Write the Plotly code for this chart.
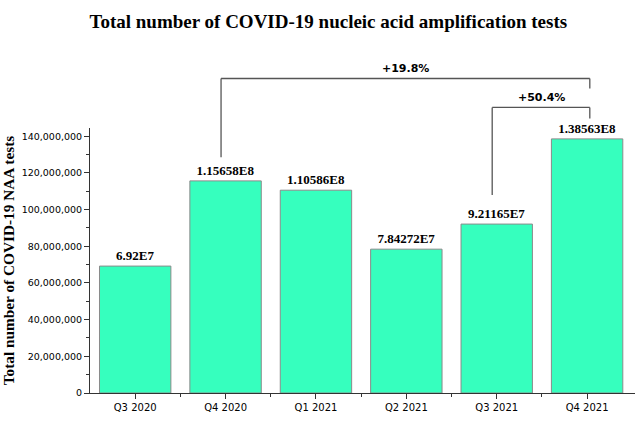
import plotly.graph_objects as go

categories = ["Q3 2020", "Q4 2020", "Q1 2021", "Q2 2021", "Q3 2021", "Q4 2021"]
tests = [69200000, 115658000, 110586000, 78427200, 92116500, 138563000]
bar_labels = ["6.92E7", "1.15658E8", "1.10586E8", "7.84272E7", "9.21165E7", "1.38563E8"]
comparisons = [("Q4 2020", "Q4 2021", "+19.8%"), ("Q3 2021", "Q4 2021", "+50.4%")]

YMAX = 144.5e6
W, H = 640, 422
ML, MR, MT, MB = 90, 5, 128, 29
x_idx = list(range(len(categories)))

fig = go.Figure()
fig.add_trace(go.Bar(
    x=x_idx, y=tests, width=0.79,
    marker=dict(color="#36FFBE", line=dict(color="#8a8a8a", width=1)),
    text=["<b>" + t + "</b>" for t in bar_labels], textposition="outside", cliponaxis=False,
    textfont=dict(family="Liberation Serif", size=13, color="black"),
    hoverinfo="skip",
))

# brackets: (top level, left leg bottom, right leg bottom) in data units -> paper
levels = [(171.5e6, 128.6e6, 166e6), (155.7e6, 108e6, 149.7e6)]
shapes = []
annotations = []
for (a, b, lab), (top, lb, rb) in zip(comparisons, levels):
    xa = categories.index(a) - 0.05
    xb = categories.index(b) + 0.03
    pts = [(xa, lb), (xa, top), (xb, top), (xb, rb)]
    for (x0, y0), (x1, y1) in zip(pts[:-1], pts[1:]):
        shapes.append(dict(type="line", xref="x", yref="paper",
                           x0=x0, x1=x1, y0=y0 / YMAX, y1=y1 / YMAX,
                           line=dict(color="#555555", width=1.3)))
    annotations.append(dict(x=(xa + xb) / 2, y=top / YMAX, xref="x", yref="paper",
                            text="<b>" + lab + "</b>", showarrow=False,
                            yanchor="bottom", yshift=1,
                            font=dict(family="DejaVu Sans", size=11, color="black")))

fig.update_layout(
    width=W, height=H,
    margin=dict(l=ML, r=MR, t=MT, b=MB),
    plot_bgcolor="white", paper_bgcolor="white",
    showlegend=False,
    title=dict(text="<b>Total number of COVID-19 nucleic acid amplification tests</b>",
               x=0.513, xanchor="center", y=1 - 21 / H, yanchor="middle",
               font=dict(family="Liberation Serif", size=19, color="black")),
    shapes=shapes, annotations=annotations,
    xaxis=dict(range=[-0.5, len(categories) - 0.5 + 0.03], tickvals=x_idx, ticktext=categories,
               showline=True, linecolor="#333333", linewidth=1,
               ticks="outside", ticklen=5, tickcolor="#333333",
               minor=dict(tickvals=[i + 0.5 for i in x_idx[:-1]], ticks="outside", ticklen=3,
                          tickcolor="#333333"),
               tickfont=dict(family="DejaVu Sans", size=10, color="black"),
               showgrid=False, zeroline=False, fixedrange=True),
    yaxis=dict(range=[0, YMAX], dtick=20e6, tickformat=",d",
               showline=True, linecolor="#333333", linewidth=1,
               ticks="outside", ticklen=5, tickcolor="#333333",
               minor=dict(dtick=10e6, ticks="outside", ticklen=3, tickcolor="#333333"),
               tickfont=dict(family="DejaVu Sans", size=9.5, color="black"),
               title=dict(text="<b>Total number of COVID-19 NAA tests</b>", standoff=3,
                          font=dict(family="Liberation Serif", size=15.3, color="black")),
               showgrid=False, zeroline=False, fixedrange=True),
)

fig.write_html("out.html")
